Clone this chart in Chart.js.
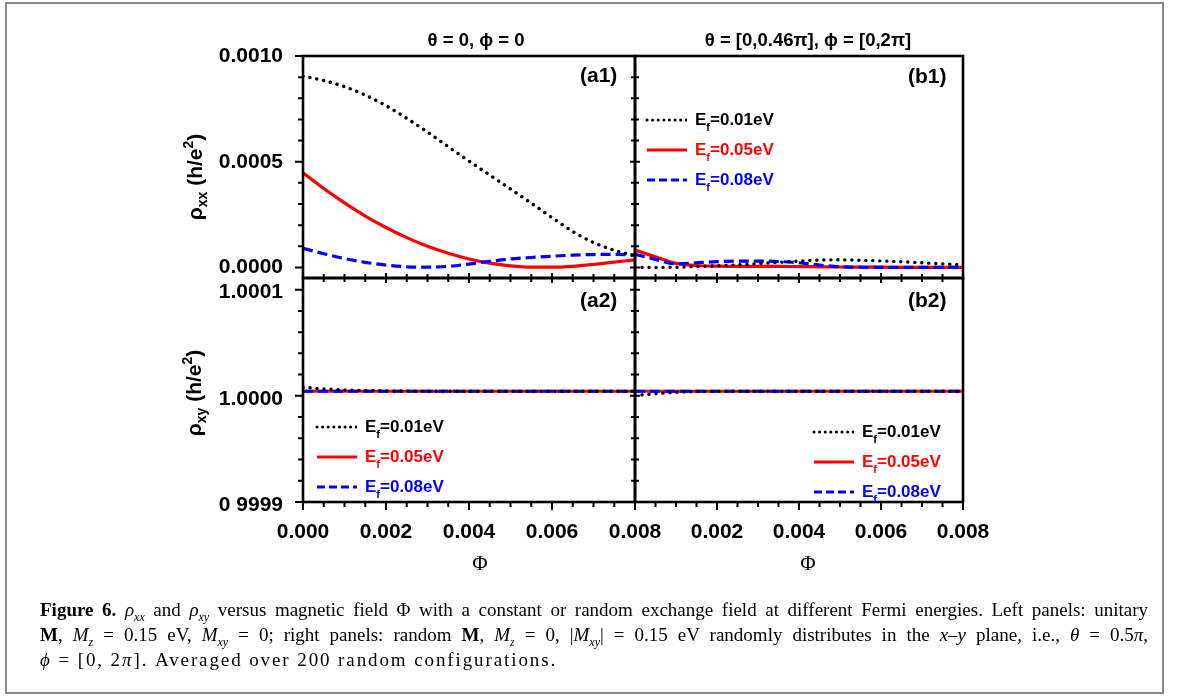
<!DOCTYPE html>
<html>
<head>
<meta charset="utf-8">
<title>Figure 6</title>
<script src="https://cdn.jsdelivr.net/npm/chart.js@4.4.1/dist/chart.umd.min.js"></script>
<style>
  html, body { margin: 0; padding: 0; background: #fff; }
  body { position: relative; width: 1179px; height: 697px; overflow: hidden; font-family: "Liberation Sans", Arial, sans-serif; color: #000; }
  .frame { position: absolute; left: 5px; top: 2px; width: 1155px; height: 688px; border: 2px solid #8a8a8a; }
  canvas { position: absolute; left: 0; top: 0; pointer-events: none; }
  .t { position: absolute; font-weight: bold; white-space: nowrap; line-height: 1.15; transform: translateY(-50%); }
  .t.c { transform: translate(-50%, -50%); }
  .t.rot { transform: translate(-50%, -50%) rotate(-90deg); }
  .t sub { font-size: 14px; vertical-align: -5px; line-height: 0; }
  .t sup { font-size: 14px; vertical-align: 9px; line-height: 0; }
  .legend { position: absolute; font-weight: bold; font-size: 17px; }
  .legend .row { display: flex; align-items: center; height: 30px; white-space: nowrap; }
  .legend svg { margin-right: 8px; }
  .legend sub { font-size: 11px; vertical-align: -6px; line-height: 0; }
  .phi { position: absolute; font-family: "Liberation Serif", "Times New Roman", serif; font-size: 21px; transform: translate(-50%, -50%); }
  .caption { position: absolute; left: 40px; top: 597px; width: 1108px; font-family: "Liberation Serif", "Times New Roman", serif; font-size: 19px; line-height: 25px; }
  .caption .j { text-align: justify; text-align-last: justify; white-space: nowrap; }
  .caption .last { letter-spacing: 1.9px; }
  .caption sub { font-size: 12px; line-height: 0; }
</style>
</head>
<body>
<div class="frame"></div>

<canvas id="a1" width="1179" height="697"></canvas>
<canvas id="b1" width="1179" height="697"></canvas>
<canvas id="a2" width="1179" height="697"></canvas>
<canvas id="b2" width="1179" height="697"></canvas>

<div class="t c" style="left:476px; top:40px; font-size:18.5px;">θ = 0, ϕ = 0</div>
<div class="t c" style="left:808px; top:40px; font-size:18.5px;">θ = [0,0.46π], ϕ = [0,2π]</div>

<div class="t" style="left:580px; top:75px; font-size:21px;">(a1)</div>
<div class="t" style="left:908px; top:76px; font-size:21px;">(b1)</div>
<div class="t" style="left:580px; top:300px; font-size:21px;">(a2)</div>
<div class="t" style="left:908px; top:300px; font-size:21px;">(b2)</div>

<div class="t rot" style="left:195px; top:177px; font-size:21px;">ρ<sub>xx</sub> (h/e<sup>2</sup>)</div>
<div class="t rot" style="left:194px; top:393px; font-size:21px;">ρ<sub>xy</sub> (h/e<sup>2</sup>)</div>

<div class="phi" style="left:480px; top:563px;">Φ</div>
<div class="phi" style="left:808px; top:563px;">Φ</div>

<div class="legend" id="legB1" style="left:645px; top:105px;"></div>
<div class="legend" id="legA2" style="left:315px; top:412px;"></div>
<div class="legend" id="legB2" style="left:812px; top:417px;"></div>

<div class="caption">
  <div class="j"><b>Figure 6.</b> <i>ρ<sub>xx</sub></i> and <i>ρ<sub>xy</sub></i> versus magnetic field Φ with a constant or random exchange field at different Fermi energies. Left panels: unitary</div>
  <div class="j"><b>M</b>, <i>M<sub>z</sub></i> = 0.15 eV, <i>M<sub>xy</sub></i> = 0; right panels: random <b>M</b>, <i>M<sub>z</sub></i> = 0, |<i>M<sub>xy</sub></i>| = 0.15 eV randomly distributes in the <i>x</i>–<i>y</i> plane, i.e., <i>θ</i> = 0.5<i>π</i>,</div>
  <div class="last"><i>ϕ</i> = [0, 2<i>π</i>]. Averaged over 200 random configurations.</div>
</div>

<script>
// magnetic flux grid, shared by all panels
const phi = [0, 0.0005, 0.001, 0.0015, 0.002, 0.0025, 0.003, 0.0035, 0.004, 0.0045, 0.005, 0.0055, 0.006, 0.0065, 0.007, 0.0075, 0.008];

// (a1) rho_xx, uniform M
const a1Ef001 = [0.000905, 0.000884, 0.000855, 0.000815, 0.000765, 0.000705, 0.000640, 0.000571, 0.000503, 0.000437, 0.000371, 0.000304, 0.000236, 0.000170, 0.000118, 0.000081, 0.000055];
const a1Ef005 = [0.000448, 0.000373, 0.000305, 0.000243, 0.000189, 0.000141, 0.000100, 0.000067, 0.000040, 0.000020, 0.000007, 0.000001, 0.000001, 0.000005, 0.000014, 0.000025, 0.000036];
const a1Ef008 = [0.000090, 0.000065, 0.000042, 0.000024, 0.000011, 0.000003, 0.000001, 0.000005, 0.000016, 0.000029, 0.000040, 0.000047, 0.000053, 0.000058, 0.000061, 0.000062, 0.000058];

// (b1) rho_xx, random M
const b1Ef001 = [0.000000, 0.000000, 0.000001, 0.000004, 0.000008, 0.000012, 0.000018, 0.000024, 0.000030, 0.000035, 0.000036, 0.000034, 0.000031, 0.000027, 0.000022, 0.000017, 0.000013];
const b1Ef005 = [0.000082, 0.000050, 0.000019, 0.000009, 0.000006, 0.000005, 0.000005, 0.000005, 0.000004, 0.000003, 0.000002, 0.000001, 0.000001, 0.000000, 0.000000, 0.000000, 0.000000];
const b1Ef008 = [0.000062, 0.000038, 0.000017, 0.000022, 0.000027, 0.000030, 0.000030, 0.000028, 0.000022, 0.000011, 0.000003, 0.000001, 0.000000, 0.000000, 0.000000, 0.000000, 0.000000];

// (a2) rho_xy, uniform M
const a2Ef001 = [1.0000081, 1.0000066, 1.0000056, 1.0000050, 1.0000047, 1.0000045, 1.0000044, 1.0000043, 1.0000043, 1.0000043, 1.0000043, 1.0000043, 1.0000043, 1.0000043, 1.0000043, 1.0000043, 1.0000043];
const a2Ef005 = [1.0000043, 1.0000043, 1.0000043, 1.0000043, 1.0000043, 1.0000043, 1.0000043, 1.0000043, 1.0000043, 1.0000043, 1.0000043, 1.0000043, 1.0000043, 1.0000043, 1.0000043, 1.0000043, 1.0000043];
const a2Ef008 = [1.0000043, 1.0000043, 1.0000043, 1.0000043, 1.0000043, 1.0000043, 1.0000043, 1.0000043, 1.0000043, 1.0000043, 1.0000043, 1.0000043, 1.0000043, 1.0000043, 1.0000043, 1.0000043, 1.0000043];

// (b2) rho_xy, random M
const b2Ef001 = [1.0000004, 1.0000020, 1.0000034, 1.0000040, 1.0000042, 1.0000043, 1.0000043, 1.0000043, 1.0000043, 1.0000043, 1.0000043, 1.0000043, 1.0000043, 1.0000043, 1.0000043, 1.0000043, 1.0000043];
const b2Ef005 = [1.0000043, 1.0000043, 1.0000043, 1.0000043, 1.0000043, 1.0000043, 1.0000043, 1.0000043, 1.0000043, 1.0000043, 1.0000043, 1.0000043, 1.0000043, 1.0000043, 1.0000043, 1.0000043, 1.0000043];
const b2Ef008 = [1.0000043, 1.0000043, 1.0000043, 1.0000043, 1.0000043, 1.0000043, 1.0000043, 1.0000043, 1.0000043, 1.0000043, 1.0000043, 1.0000043, 1.0000043, 1.0000043, 1.0000043, 1.0000043, 1.0000043];

// tick labels
const phiTicks = [0, 0.002, 0.004, 0.006, 0.008];
const rhoXXTicks = [0, 0.0005, 0.001];
const rhoXYTicks = [0.9999, 1.0, 1.0001];
const rhoXYTickLabels = ['0 9999', '1.0000', '1.0001'];

// legend entries
const energies = ['0.01', '0.05', '0.08'];
const colors = ['#000000', '#ff0000', '#0000ff'];

const lineStyles = [
    { width: 3.4, dash: [0.1, 6.9], cap: 'round', order: 0 },
    { width: 3.2, dash: [], cap: 'butt', order: 2 },
    { width: 3.2, dash: [10, 5], cap: 'butt', order: 1 }
];

// frame + tick marks, placed with the chart's own scales
const frameTicks = {
    id: 'frameTicks',
    afterDraw(chart, args, opts) {
        const { ctx, chartArea: a } = chart;
        const xs = chart.scales.x, ys = chart.scales.y;

        const marks = (scale, majors, step) => {
            const out = [];
            const k0 = Math.ceil(scale.min / step - 1e-6);
            const k1 = Math.floor(scale.max / step + 1e-6);
            for (let k = k0; k <= k1; k++) {
                const v = k * step;
                const major = majors.some(m => Math.abs(m - v) < step / 10);
                out.push({ p: scale.getPixelForValue(v), major });
            }
            return out;
        };
        const lens = (mode, major) => mode === 'out' ? [major ? 8 : 5, 0] : [major ? 5 : 4, major ? 5 : 4];

        ctx.save();
        ctx.strokeStyle = '#000';
        ctx.lineWidth = 2;
        ctx.beginPath();
        const ym = marks(ys, opts.yMajors, opts.yMinor);
        const xm = marks(xs, phiTicks, 0.0005);
        const s = opts.sides;
        if (s.left) ym.forEach(m => { const [o, i] = lens(s.left, m.major); ctx.moveTo(a.left - o, m.p); ctx.lineTo(a.left + i, m.p); });
        if (s.right) ym.forEach(m => { const [o, i] = lens(s.right, m.major); ctx.moveTo(a.right - i, m.p); ctx.lineTo(a.right + o, m.p); });
        if (s.bottom) xm.forEach(m => { const [o, i] = lens(s.bottom, m.major); ctx.moveTo(m.p, a.bottom - i); ctx.lineTo(m.p, a.bottom + o); });
        ctx.stroke();

        ctx.lineWidth = 2.6;
        ctx.strokeRect(a.left, a.top, a.right - a.left, a.bottom - a.top);
        ctx.restore();
    }
};

function makePanel(id, cfg) {
    const datasets = cfg.series.map((values, i) => ({
        data: phi.map((x, k) => ({ x, y: values[k] })),
        borderColor: colors[i],
        borderWidth: lineStyles[i].width,
        borderDash: lineStyles[i].dash,
        borderCapStyle: lineStyles[i].cap,
        order: lineStyles[i].order,
        pointRadius: 0,
        fill: false,
        cubicInterpolationMode: 'monotone'
    }));

    const tickFont = { family: '"Liberation Sans", Arial, sans-serif', size: 21, weight: 'bold' };

    return new Chart(document.getElementById(id), {
        type: 'line',
        data: { datasets },
        options: {
            responsive: false,
            animation: false,
            events: [],
            layout: { autoPadding: false, padding: cfg.padding },
            plugins: {
                legend: { display: false },
                tooltip: { enabled: false },
                frameTicks: { sides: cfg.sides, yMajors: cfg.yTicks, yMinor: cfg.yMinor }
            },
            scales: {
                x: {
                    type: 'linear', min: 0, max: 0.008,
                    grid: { display: false, drawTicks: false },
                    border: { display: false },
                    ticks: {
                        display: cfg.showX, color: '#000', font: tickFont, padding: 18, autoSkip: false, maxRotation: 0,
                        callback: v => (cfg.hideZero && v === 0) ? '' : v.toFixed(3)
                    },
                    afterBuildTicks: sc => { sc.ticks = phiTicks.map(v => ({ value: v })); },
                    afterFit: sc => { sc.height = cfg.xHeight; }
                },
                y: {
                    type: 'linear', min: cfg.yMin, max: cfg.yMax,
                    grid: { display: false, drawTicks: false },
                    border: { display: false },
                    ticks: {
                        display: cfg.showY, color: '#000', font: tickFont, padding: 20, autoSkip: false,
                        labelOffset: cfg.yLabelOffset || 0,
                        callback: (v, i) => cfg.yLabels[i]
                    },
                    afterBuildTicks: sc => { sc.ticks = cfg.yTicks.map(v => ({ value: v })); },
                    afterFit: sc => { sc.width = cfg.yWidth; }
                }
            }
        },
        plugins: [frameTicks]
    });
}

const xxLabels = rhoXXTicks.map(v => v.toFixed(4));

makePanel('a1', {
    series: [a1Ef001, a1Ef005, a1Ef008],
    padding: { left: 0, top: 56, right: 544, bottom: 419 },
    yWidth: 303, xHeight: 0, showX: false, showY: true,
    yMin: -0.00005, yMax: 0.001, yTicks: rhoXXTicks, yLabels: xxLabels, yMinor: 0.0001,
    sides: { left: 'out', right: 'cross', bottom: 'cross' }
});
makePanel('b1', {
    series: [b1Ef001, b1Ef005, b1Ef008],
    padding: { left: 635, top: 56, right: 216, bottom: 419 },
    yWidth: 0, xHeight: 0, showX: false, showY: false,
    yMin: -0.00005, yMax: 0.001, yTicks: rhoXXTicks, yLabels: xxLabels, yMinor: 0.0001,
    sides: { bottom: 'cross' }
});
makePanel('a2', {
    series: [a2Ef001, a2Ef005, a2Ef008],
    padding: { left: 0, top: 278, right: 544, bottom: 135 },
    yWidth: 303, xHeight: 60, showX: true, showY: true, yLabelOffset: 3,
    yMin: 0.9999, yMax: 1.000111, yTicks: rhoXYTicks, yLabels: rhoXYTickLabels, yMinor: 0.00002,
    sides: { left: 'out', right: 'cross', bottom: 'out' }
});
makePanel('b2', {
    series: [b2Ef001, b2Ef005, b2Ef008],
    padding: { left: 635, top: 278, right: 216, bottom: 135 },
    yWidth: 0, xHeight: 60, showX: true, showY: false, hideZero: true,
    yMin: 0.9999, yMax: 1.000111, yTicks: rhoXYTicks, yLabels: rhoXYTickLabels, yMinor: 0.00002,
    sides: { bottom: 'out' }
});

// legends: line sample + E_f label
function buildLegend(elId) {
    const el = document.getElementById(elId);
    energies.forEach((e, i) => {
        const st = lineStyles[i];
        const row = document.createElement('div');
        row.className = 'row';
        row.style.color = colors[i];
        const dash = st.dash.length ? st.dash.map(d => d * 0.8).join(' ') : 'none';
        row.innerHTML =
            `<svg width="42" height="8"><line x1="2" y1="4" x2="42" y2="4" stroke="${colors[i]}" stroke-width="${i === 0 ? 3 : 3.2}" stroke-dasharray="${dash}" stroke-linecap="${st.cap}"/></svg>` +
            `<span>E<sub>f</sub>=${e}eV</span>`;
        el.appendChild(row);
    });
}
['legB1', 'legA2', 'legB2'].forEach(buildLegend);
</script>
</body>
</html>
